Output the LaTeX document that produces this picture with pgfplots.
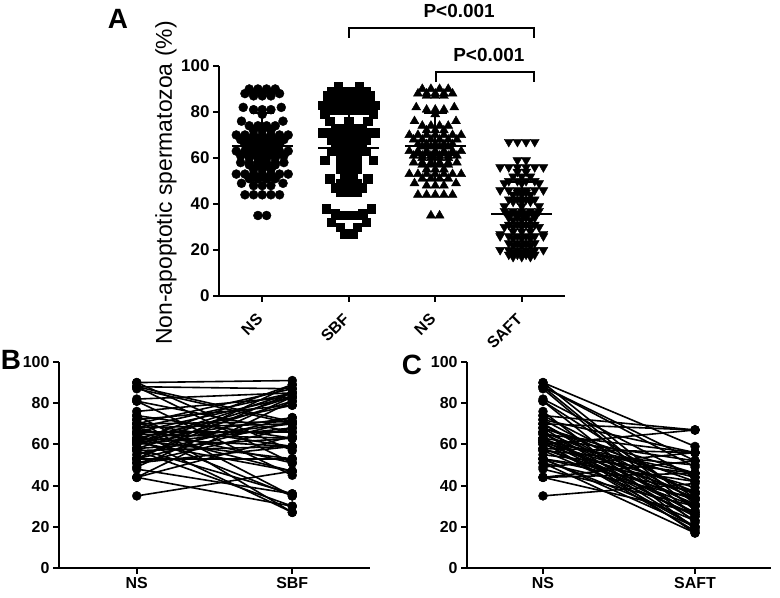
\documentclass[border=0pt]{standalone}
\usepackage{pgfplots}
\pgfplotsset{compat=1.18}
\usepackage{pgfplotstable}
\usepackage{fontspec}
\setmainfont{Liberation Sans}

\pgfplotstableread{
ns nso sbf sbfo saft safto
90 -0.15 91 -0.12 59 0.05
90 -0.05 73 -0.05 44 0.1
90 0.05 57 -0.05 31 0.05
90 0.15 89 0 20 -0.15
88 -0.2 71 -0.2 52 -0.1
88 -0.1 55 0.1 39 0
88 0 87 -0.15 28 0.1
88 0.1 71 0.2 18 -0.05
88 0.2 51 0.22 49 0.2
87 -0.1 87 0.25 36 0.05
87 0 70 0.05 25 -0.1
87 0.1 47 -0.15 50 0.05
82 -0.22 85 0.05 44 -0.1
82 0.22 68 0 31 -0.15
81 -0.1 45 -0.1 22 0.1
81 0 83 -0.2 54 -0.05
81 0.1 66 -0.05 34 -0.15
79 0 38 0.26 28 -0.1
76 -0.24 83 0.2 19 0.1
76 0.24 64 0 49 -0.2
74 -0.15 35 -0.05 36 -0.15
74 -0.05 81 0 26 0.15
74 0.05 63 0 67 -0.05
74 0.15 32 0.2 45 -0.05
72 -0.1 79 0.28 33 0
72 0 61 0.05 22 -0.1
72 0.1 27 0.05 56 0.15
70 -0.3 73 -0.15 41 -0.1
70 -0.2 59 0.28 30 0.1
70 -0.1 89 -0.1 19 -0.1
70 0 71 -0.3 67 0.15
70 0.1 55 0 37 0.1
70 0.2 87 -0.25 26 -0.05
70 0.3 71 0.1 17 0.1
68 -0.25 51 -0.22 46 0.15
68 -0.15 87 0.15 34 0.15
68 -0.05 70 -0.05 23 0.05
68 0.05 49 0.1 56 -0.05
68 0.15 85 -0.05 42 0.05
68 0.25 68 -0.1 30 -0.1
66 -0.2 47 0.15 20 0.15
66 -0.1 83 -0.3 50 -0.15
66 0 66 -0.15 37 -0.1
66 0.1 38 -0.26 26 -0.25
66 0.2 83 0.1 17 -0.1
65 -0.15 64 -0.1 46 -0.05
65 -0.05 35 -0.15 34 -0.05
65 0.05 81 -0.1 23 -0.15
65 0.15 63 -0.1 56 -0.25
63 -0.3 32 -0.2 42 -0.15
63 -0.2 79 -0.28 31 0.15
63 -0.1 61 -0.05 20 -0.05
63 0 27 -0.05 52 0
63 0.1 76 0.22 39 0.2
63 0.2 59 0.1 27 -0.25
63 0.3 89 -0.2 18 0.05
62 -0.2 73 0.15 46 -0.25
62 -0.1 55 -0.1 36 0.15
62 0 89 0.2 25 0
62 0.1 71 0 59 -0.05
62 0.2 53 0.05 44 0
61 -0.25 87 0.05 31 -0.05
61 -0.15 70 -0.15 20 -0.25
61 -0.05 49 0 54 0.05
61 0.05 85 -0.15 39 -0.2
61 0.15 68 -0.2 28 0
61 0.25 47 0.05 18 -0.15
60 -0.15 85 0.25 49 0
60 -0.05 68 0.2 36 -0.05
60 0.05 45 0.1 26 0.25
60 0.15 83 0 67 0.05
58 -0.25 66 0.15 45 0.05
58 -0.15 36 0.16 33 0.1
58 -0.05 81 -0.2 22 0
58 0.05 63 -0.2 56 0.25
58 0.15 35 0.15 25 0.1
58 0.25 81 0.2 30 0.2
57 -0.15 63 0.2 19 0
57 -0.05 30 0.1 50 0.15
57 0.05 76 0 37 0.2
57 0.15 59 -0.1 26 0.05
55 -0.1 91 0.12 67 -0.15
55 0 73 0.05 46 0.25
55 0.1 57 0.05 33 -0.1
53 -0.3 89 0.1 23 0.15
53 -0.2 71 -0.1 56 0.05
53 -0.1 53 -0.05 42 0.15
53 0 87 -0.05 30 0
53 0.1 71 0.3 20 0.25
53 0.2 49 -0.1 50 -0.05
53 0.3 85 -0.25 37 0
51 -0.15 70 0.15 26 -0.15
51 -0.05 59 -0.28 17 0
51 0.05 85 0.15 46 0.05
51 0.15 68 0.1 34 0.05
49 -0.24 76 -0.22 23 -0.05
49 0.24 83 -0.1 56 -0.15
48 -0.1 66 0.05 42 -0.05
48 0 36 -0.16 30 -0.2
48 0.1 83 0.3 20 0.05
44 -0.2 64 0.1 52 0.1
44 -0.1 35 0.05 37 -0.2
44 0 81 0.1 27 0.25
44 0.1 63 0.1 18 0.15
44 0.2 30 -0.1 46 -0.15
35 -0.05 45 0 41 0.1
35 0.05 47 -0.05 41 0
}\data

\pgfplotsset{
  gpstyle/.style={
    scale only axis,
    axis lines=left,
    axis line style={-, line width=2.2bp, black},
    tick align=outside,
    major tick length=6bp,
    tick style={line width=2bp, black},
    ymin=0, ymax=100,
    ytick={0,20,40,60,80,100},
    clip=false,
    /pgf/number format/assume math mode=true,
  }
}

\begin{document}
\begin{tikzpicture}[x=1bp,y=1bp]
\path[use as bounding box] (0,0) rectangle (780,598);

% ---------------- Panel A ----------------
\begin{axis}[gpstyle,
  at={(219bp,302bp)}, anchor=south west,
  width=346bp, height=230bp,
  xmin=0.5, xmax=4.5,
  xtick={1,2,3,4}, xticklabels={NS,SBF,NS,SAFT},
  yticklabel style={font=\fontsize{17}{19}\selectfont\bfseries},
  xticklabel style={font=\fontsize{16}{18}\selectfont\bfseries, rotate=45, anchor=east},
  xticklabel shift=12bp,
]
\addplot[only marks, mark=*, mark size=4.5bp, black] table[x expr=1+\thisrow{nso}, y=ns] {\data};
\addplot[only marks, mark=square*, mark size=4.2bp, black] table[x expr=2+\thisrow{sbfo}, y=sbf] {\data};
\addplot[only marks, mark=triangle*, mark size=5.2bp, black] table[x expr=3+\thisrow{nso}, y=ns] {\data};
\addplot[only marks, mark=triangle*, mark size=5.2bp, black, mark options={rotate=180}] table[x expr=4+\thisrow{safto}, y=saft] {\data};
% mean and SD
\addplot[black, line width=2bp, unbounded coords=jump] coordinates {
 (0.65,65) (1.35,65) (1,nan) (1,50.5) (1,79.5) (1,nan) (0.87,79.5) (1.13,79.5) (1,nan) (0.87,50.5) (1.13,50.5)
 (2,nan) (1.65,64.3) (2.35,64.3) (2,nan) (2,46.6) (2,82) (2,nan) (1.87,82) (2.13,82) (2,nan) (1.87,46.6) (2.13,46.6)
 (3,nan) (2.65,65) (3.35,65) (3,nan) (3,50.5) (3,79.5) (3,nan) (2.87,79.5) (3.13,79.5) (3,nan) (2.87,50.5) (3.13,50.5)
 (4,nan) (3.65,35.8) (4.35,35.8) (4,nan) (4,21.9) (4,49.7) (4,nan) (3.87,49.7) (4.13,49.7) (4,nan) (3.87,21.9) (4.13,21.9)
};
\draw[line width=2.2bp] (axis cs:2,112.2) -- (axis cs:2,116.5) -- (axis cs:4.14,116.5) -- (axis cs:4.14,112.2);
\draw[line width=2.2bp] (axis cs:3.01,93) -- (axis cs:3.01,97.4) -- (axis cs:4.14,97.4) -- (axis cs:4.14,93);
\node[font=\fontsize{19}{21}\selectfont\bfseries] at (axis cs:3.276,123.7) {P<0.001};
\node[font=\fontsize{19}{21}\selectfont\bfseries] at (axis cs:3.62,104.8) {P<0.001};
\end{axis}

\node[rotate=90, font=\fontsize{23}{26}\selectfont] at (166,415) {Non-apoptotic spermatozoa (\%)};
\node[font=\fontsize{28}{30}\selectfont\bfseries] at (118,579) {A};

% ---------------- Panel B ----------------
\begin{axis}[gpstyle,
  at={(59bp,30bp)}, anchor=south west,
  width=311bp, height=206bp,
  xmin=0.5, xmax=2.5,
  xtick={1,2}, xticklabels={NS,SBF},
  ticklabel style={font=\fontsize{16}{18}\selectfont\bfseries},
]
\addplot[black, line width=1.6bp, each nth point=2, filter discard warning=false, quiver={u=1, v=\thisrow{sbf}-\thisrow{ns}}] table[x expr=1, y=ns] {\data};
\addplot[only marks, mark=*, mark size=4.5bp, black, each nth point=2, filter discard warning=false] table[x expr=1, y=ns] {\data};
\addplot[only marks, mark=*, mark size=4.5bp, black, each nth point=2, filter discard warning=false] table[x expr=2, y=sbf] {\data};
\end{axis}
\node[font=\fontsize{28}{30}\selectfont\bfseries] at (11,238) {B};

% ---------------- Panel C ----------------
\begin{axis}[gpstyle,
  at={(467bp,30bp)}, anchor=south west,
  width=304bp, height=206bp,
  xmin=0.5, xmax=2.5,
  xtick={1,2}, xticklabels={NS,SAFT},
  ticklabel style={font=\fontsize{16}{18}\selectfont\bfseries},
]
\addplot[black, line width=1.6bp, each nth point=2, filter discard warning=false, quiver={u=1, v=\thisrow{saft}-\thisrow{ns}}] table[x expr=1, y=ns] {\data};
\addplot[only marks, mark=*, mark size=4.5bp, black, each nth point=2, filter discard warning=false] table[x expr=1, y=ns] {\data};
\addplot[only marks, mark=*, mark size=4.5bp, black, each nth point=2, filter discard warning=false] table[x expr=2, y=saft] {\data};
\end{axis}
\node[font=\fontsize{28}{30}\selectfont\bfseries] at (412,233) {C};
\end{tikzpicture}
\end{document}
